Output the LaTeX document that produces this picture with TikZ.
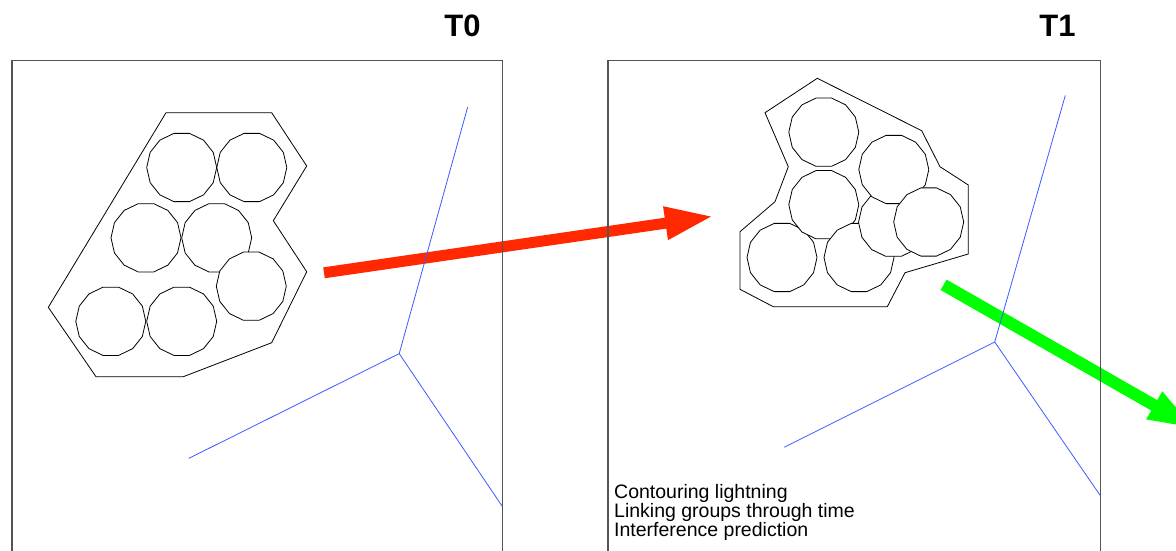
\documentclass[tikz,border=0pt]{standalone}
\usepackage{fontspec}
\setmainfont{Liberation Sans}
\usetikzlibrary{arrows.meta,shapes.geometric}
\definecolor{arrowred}{RGB}{255,40,0}
\definecolor{arrowgreen}{RGB}{0,255,0}
\definecolor{zoneblue}{RGB}{60,90,255}
\definecolor{framegray}{RGB}{85,85,85}
\begin{document}
\begin{tikzpicture}[x=1pt,y=-1pt,
  cell/.style={draw=black, fill=white, line width=0.8pt, regular polygon, regular polygon sides=14, minimum size=70pt, inner sep=0pt, outer sep=0pt},
  contour/.style={draw=black, line width=0.8pt},
  panel/.style={draw=framegray, line width=1.2pt},
  zone/.style={draw=zoneblue, line width=0.8pt},
  redarrow/.style={draw=arrowred, line width=11pt, -{Triangle[length=48.5pt,width=30.5pt]}},
  greenarrow/.style={draw=arrowgreen, line width=12pt, -{Triangle[length=48.5pt,width=28pt]}},
  title/.style={font=\bfseries\fontsize{31}{37}\selectfont, inner sep=0pt, anchor=base},
  note/.style={font=\fontsize{19.5}{20}\selectfont, inner sep=0pt, anchor=base west},
]
\useasboundingbox (0,0) rectangle (1176,550);
\clip (0,0) rectangle (1176,550);

% arrows
\coordinate (rs) at (324,272.8);
\coordinate (re) at (713.5,216.2);
\coordinate (gs) at (943.6,284.8);
\coordinate (ge) at (1196.3,429.4);
\draw[redarrow] (rs) -- (re);
\draw[greenarrow] (gs) -- (ge);

% panels
\draw[panel] (12,60.7) rectangle (502.5,600);
\draw[panel] (608,60.7) rectangle (1100.5,600);

% zone boundaries
\coordinate (L0) at (399.2,353.6);
\coordinate (L1) at (467.7,107);
\coordinate (L2) at (188.7,458.4);
\coordinate (L3) at (502.1,506.1);
\draw[zone] (L1) -- (L0) -- (L2);
\draw[zone] (L0) -- (L3);
\coordinate (R0) at (994.7,342);
\coordinate (R1) at (1065.3,95.4);
\coordinate (R2) at (784.3,447.2);
\coordinate (R3) at (1100.1,495.3);
\draw[zone] (R1) -- (R0) -- (R2);
\draw[zone] (R0) -- (R3);

% T0 contour
\draw[contour] (166,112.7) -- (271.7,112.7) -- (306.7,166) -- (273.3,220.7) -- (306.7,271.7)
  -- (271.7,342.7) -- (183.3,376.7) -- (96,376.7) -- (48.3,307.3) -- cycle;
% T0 cells
\node[cell] (a1) at (181.7,167.5) {};
\node[cell] (a2) at (251.8,167.5) {};
\node[cell] (a3) at (146,237.8) {};
\node[cell] (a4) at (216.7,237.8) {};
\node[cell] (a6) at (110.8,321.3) {};
\node[cell] (a7) at (181.7,321.3) {};
\node[cell] (a5) at (251.3,286.2) {};

% T1 contour
\draw[contour] (817.3,78.3) -- (921.7,130.7) -- (940,166.7) -- (968.3,185) -- (968.3,254)
  -- (905,272.7) -- (887.3,306.7) -- (773.3,306.7) -- (740,289.3) -- (740,231.7)
  -- (775,201.7) -- (788.3,166.7) -- (765,112.7) -- cycle;
% T1 cells
\node[cell] (b1) at (823.8,132.2) {};
\node[cell] (b6) at (782,257.5) {};
\node[cell] (b3) at (823.8,204.7) {};
\node[cell] (b7) at (859,257.5) {};
\node[cell] (b4) at (893.5,222.2) {};
\node[cell] (b2) at (893.8,169.5) {};
\node[cell] (b5) at (928.7,222) {};

% titles
\node[title] (t0) at (462.5,36.7) {T0};
\node[title] (t1) at (1057.5,36.7) {T1};

% notes
\node[note] (n1) at (614,498.3) {Contouring lightning};
\node[note] (n2) at (614,517.7) {Linking groups through time};
\node[note] (n3) at (614,536.7) {Interference prediction};
\end{tikzpicture}
\end{document}
